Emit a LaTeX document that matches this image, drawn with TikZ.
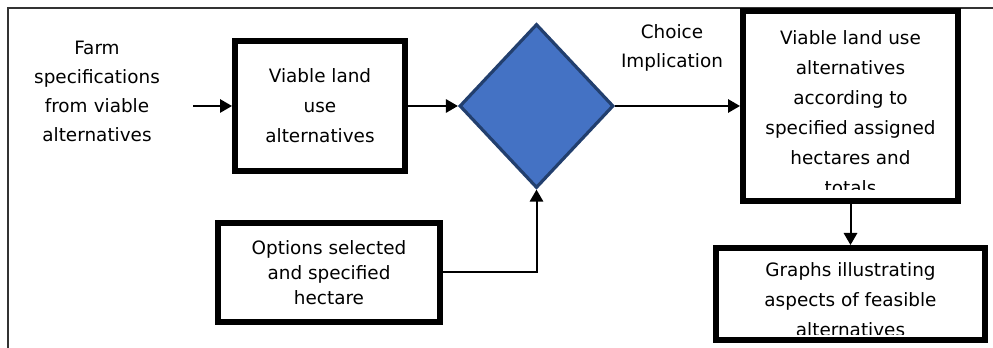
\documentclass[tikz,border=0pt]{standalone}
\usepackage{fontspec}
\setmainfont{DejaVu Sans}
\usetikzlibrary{%
  arrows.meta,%
  shapes.geometric,% wg. diamond
  positioning%
}
\definecolor{dmdfill}{HTML}{4472C4}
\definecolor{dmdline}{HTML}{223F6E}
\tikzset{
  box/.style={draw, rectangle, line width=4.5pt, inner sep=0pt, align=center,
    font=\fontsize{13.8}{22.5}\selectfont},
  txt/.style={inner sep=0pt, align=center, font=\fontsize{13.8}{22.5}\selectfont},
  dmd/.style={draw=dmdline, fill=dmdfill, diamond, line width=2.4pt, inner sep=0pt},
  conn/.style={line width=1.5pt, -{Triangle[length=9pt,width=10pt]}},
}

\begin{document}
\begin{tikzpicture}[x=0.75pt,y=-0.75pt]
\useasboundingbox (0,0) rectangle (993,348);

%outer frame, only top and left edge
\draw[line width=1.5pt, black!80] (8,348) -- (8,8) -- (993,8);

%input text and first box
\node[txt, font=\fontsize{13.8}{21.75}\selectfont, text width=144pt] (farm) at (97,91.5) {Farm\\specifications\\from viable\\alternatives};
\node[box, minimum width=127.5pt, minimum height=97.5pt] (viab1) at (320,106) {Viable land\\use\\alternatives};
\draw[conn] (farm.east |- viab1.west) -- (viab1.west);

%decision diamond with its label
\node[dmd, minimum width=115.5pt, minimum height=123pt] (choice) at (536.5,106) {};
\node[txt, font=\fontsize{13.8}{21.75}\selectfont] (implic) at (672,48) {Choice\\Implication};
\draw[conn] (viab1.east) -- (choice.west);

%options box from below
\node[box, font=\fontsize{13.8}{18.75}\selectfont, minimum width=166.5pt, minimum height=74.25pt] (opts) at (329,272.5) {Options selected\\and specified\\hectare};
\draw[conn] (opts.east) -| (choice.south);

%result boxes on the right
\node[box, minimum width=161.25pt, minimum height=142.5pt] (viab2) at (850.5,106) {};
\node[box, minimum width=201.75pt, minimum height=69pt] (graphs) at (850.5,294) {};
\draw[conn] (choice.east) -- (viab2.west);
\draw[conn] (viab2.south) -- (graphs.north);

%texts cut off at the bottom of their boxes
\begin{scope}
\clip ([yshift=10.5pt]viab2.south west) rectangle (viab2.north east);
\node[txt] (viab2txt) at (850.5,113) {Viable land use\\alternatives\\according to\\specified assigned\\hectares and\\totals};
\end{scope}
\begin{scope}
\clip ([yshift=6pt]graphs.south west) rectangle (graphs.north east);
\node[txt] (graphstxt) at (850.5,300) {Graphs illustrating\\aspects of feasible\\alternatives};
\end{scope}
\end{tikzpicture}
\end{document}
